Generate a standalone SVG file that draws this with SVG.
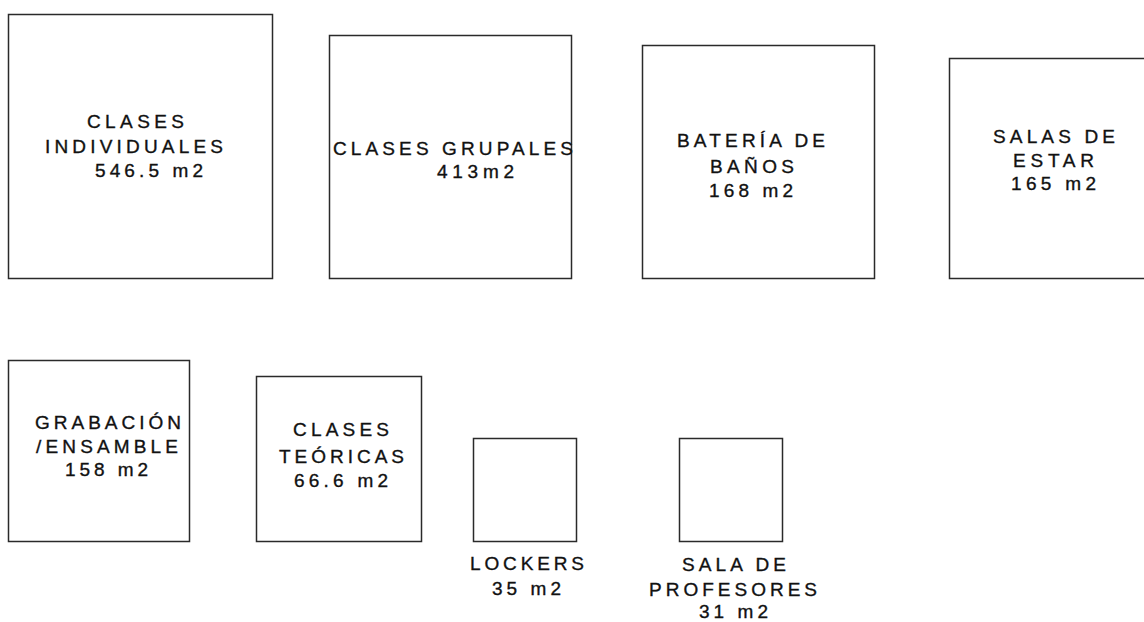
<svg xmlns="http://www.w3.org/2000/svg" width="1144" height="622" viewBox="0 0 1144 622">
<style>
.box{fill:#fff;stroke:#2a2a2a;stroke-width:1.5}
.t{font-family:"Liberation Sans",Arial,sans-serif;font-size:19px;fill:#111;stroke:#111;stroke-width:0.35}
</style>
<rect width="1144" height="622" fill="#fff"/>
<g id="clases-individuales">
<rect class="box" x="8.5" y="14.5" width="264" height="264"/>
<text class="t" x="87" y="128" textLength="97" lengthAdjust="spacing">CLASES</text>
<text class="t" x="45" y="153" textLength="178" lengthAdjust="spacing">INDIVIDUALES</text>
<text class="t" x="95" y="177" textLength="108" lengthAdjust="spacing">546.5 m2</text>
</g>
<g id="clases-grupales">
<rect class="box" x="329.5" y="35.5" width="242" height="243"/>
<text class="t" x="333" y="155" textLength="240" lengthAdjust="spacing">CLASES GRUPALES</text>
<text class="t" x="437" y="178" textLength="77" lengthAdjust="spacing">413m2</text>
</g>
<g id="bateria-banos">
<rect class="box" x="642.5" y="45.5" width="232" height="233"/>
<text class="t" x="677" y="147" textLength="148" lengthAdjust="spacing">BATERÍA DE</text>
<text class="t" x="710" y="173" textLength="84" lengthAdjust="spacing">BAÑOS</text>
<text class="t" x="709" y="197" textLength="84" lengthAdjust="spacing">168 m2</text>
</g>
<g id="salas-estar">
<rect class="box" x="949.5" y="58.5" width="200" height="220"/>
<text class="t" x="993" y="143" textLength="122" lengthAdjust="spacing">SALAS DE</text>
<text class="t" x="1013" y="167" textLength="81" lengthAdjust="spacing">ESTAR</text>
<text class="t" x="1011" y="190" textLength="85" lengthAdjust="spacing">165 m2</text>
</g>
<g id="grabacion-ensamble">
<rect class="box" x="8.5" y="360.5" width="181" height="181"/>
<text class="t" x="35" y="429" textLength="146" lengthAdjust="spacing">GRABACIÓN</text>
<text class="t" x="36" y="453" textLength="142" lengthAdjust="spacing">/ENSAMBLE</text>
<text class="t" x="65" y="476" textLength="83" lengthAdjust="spacing">158 m2</text>
</g>
<g id="clases-teoricas">
<rect class="box" x="256.5" y="376.5" width="165" height="165"/>
<text class="t" x="293" y="436" textLength="96" lengthAdjust="spacing">CLASES</text>
<text class="t" x="279" y="463" textLength="125" lengthAdjust="spacing">TEÓRICAS</text>
<text class="t" x="294" y="487" textLength="94" lengthAdjust="spacing">66.6 m2</text>
</g>
<g id="lockers">
<rect class="box" x="473.5" y="438.5" width="103" height="103"/>
<text class="t" x="470" y="570" textLength="114" lengthAdjust="spacing">LOCKERS</text>
<text class="t" x="492" y="595" textLength="69" lengthAdjust="spacing">35 m2</text>
</g>
<g id="sala-profesores">
<rect class="box" x="679.5" y="438.5" width="103" height="103"/>
<text class="t" x="682" y="571" textLength="104" lengthAdjust="spacing">SALA DE</text>
<text class="t" x="649" y="596" textLength="168" lengthAdjust="spacing">PROFESORES</text>
<text class="t" x="699" y="618" textLength="69" lengthAdjust="spacing">31 m2</text>
</g>
<g id="connectors"></g>
</svg>
